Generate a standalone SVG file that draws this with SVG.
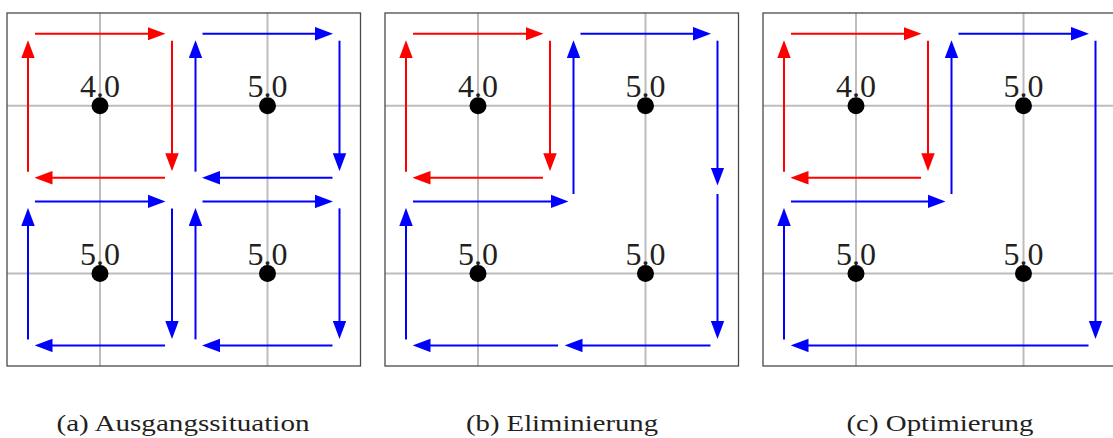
<svg xmlns="http://www.w3.org/2000/svg" width="1113" height="438" viewBox="0 0 1113 438">
<style>
.frame{fill:none;stroke:#4a4a4a;stroke-width:1.3}
.grid{stroke:#bdbdbd;stroke-width:2}
.r{fill:none;stroke:#ff0000;stroke-width:2;marker-end:url(#hr)}
.b{fill:none;stroke:#0000ff;stroke-width:2;marker-end:url(#hb)}
.dot{fill:#000}
</style>
<defs>
<marker id="hr" markerUnits="userSpaceOnUse" markerWidth="18" markerHeight="14" refX="12" refY="6" orient="auto" viewBox="0 0 16 12"><path d="M0,0 L16,6 L0,12 z" fill="#ff0000"/></marker>
<marker id="hb" markerUnits="userSpaceOnUse" markerWidth="18" markerHeight="14" refX="12" refY="6" orient="auto" viewBox="0 0 16 12"><path d="M0,0 L16,6 L0,12 z" fill="#0000ff"/></marker>
</defs>

<g id="panel-a">
<line class="grid" x1="100" y1="13" x2="100" y2="366"/>
<line class="grid" x1="267.5" y1="13" x2="267.5" y2="366"/>
<line class="grid" x1="7" y1="105.7" x2="360.5" y2="105.7"/>
<line class="grid" x1="7" y1="273.4" x2="360.5" y2="273.4"/>
<rect class="frame" x="7" y="13" width="353.5" height="353"/>
<g font-family="Liberation Serif, Times New Roman, serif" font-size="32" fill="#231f20" text-anchor="middle">
<text x="100" y="97">4.0</text>
<text x="267.5" y="97">5.0</text>
<text x="100" y="265">5.0</text>
<text x="267.5" y="265">5.0</text>
</g>
<circle class="dot" cx="100" cy="105.7" r="8.5"/>
<circle class="dot" cx="267.5" cy="105.7" r="8.5"/>
<circle class="dot" cx="100" cy="273.4" r="8.5"/>
<circle class="dot" cx="267.5" cy="273.4" r="8.5"/>
</g>
<g id="panel-b" transform="translate(378,0)">
<line class="grid" x1="100" y1="13" x2="100" y2="366"/>
<line class="grid" x1="267.5" y1="13" x2="267.5" y2="366"/>
<line class="grid" x1="7" y1="105.7" x2="360.5" y2="105.7"/>
<line class="grid" x1="7" y1="273.4" x2="360.5" y2="273.4"/>
<rect class="frame" x="7" y="13" width="353.5" height="353"/>
<g font-family="Liberation Serif, Times New Roman, serif" font-size="32" fill="#231f20" text-anchor="middle">
<text x="100" y="97">4.0</text>
<text x="267.5" y="97">5.0</text>
<text x="100" y="265">5.0</text>
<text x="267.5" y="265">5.0</text>
</g>
<circle class="dot" cx="100" cy="105.7" r="8.5"/>
<circle class="dot" cx="267.5" cy="105.7" r="8.5"/>
<circle class="dot" cx="100" cy="273.4" r="8.5"/>
<circle class="dot" cx="267.5" cy="273.4" r="8.5"/>
</g>
<g id="panel-c" transform="translate(756,0)">
<line class="grid" x1="100" y1="13" x2="100" y2="366"/>
<line class="grid" x1="267.5" y1="13" x2="267.5" y2="366"/>
<line class="grid" x1="7" y1="105.7" x2="360.5" y2="105.7"/>
<line class="grid" x1="7" y1="273.4" x2="360.5" y2="273.4"/>
<rect class="frame" x="7" y="13" width="353.5" height="353"/>
<g font-family="Liberation Serif, Times New Roman, serif" font-size="32" fill="#231f20" text-anchor="middle">
<text x="100" y="97">4.0</text>
<text x="267.5" y="97">5.0</text>
<text x="100" y="265">5.0</text>
<text x="267.5" y="265">5.0</text>
</g>
<circle class="dot" cx="100" cy="105.7" r="8.5"/>
<circle class="dot" cx="267.5" cy="105.7" r="8.5"/>
<circle class="dot" cx="100" cy="273.4" r="8.5"/>
<circle class="dot" cx="267.5" cy="273.4" r="8.5"/>
</g>

<g id="connectors">
<g id="conn-a">
<path class="r" d="M35,33.7 H161"/>
<path class="r" d="M172,40.7 V166.7"/>
<path class="r" d="M165,177.7 H39"/>
<path class="r" d="M28,171.7 V44.7"/>
<path class="b" d="M202.5,33.7 H328.5"/>
<path class="b" d="M339.5,40.7 V166.7"/>
<path class="b" d="M332.5,177.7 H206.5"/>
<path class="b" d="M195.5,171.7 V44.7"/>
<path class="b" d="M35,201.4 H161"/>
<path class="b" d="M172,208.4 V334.4"/>
<path class="b" d="M165,345.4 H39"/>
<path class="b" d="M28,339.4 V212.4"/>
<path class="b" d="M202.5,201.4 H328.5"/>
<path class="b" d="M339.5,208.4 V334.4"/>
<path class="b" d="M332.5,345.4 H206.5"/>
<path class="b" d="M195.5,339.4 V212.4"/>
</g>
<g id="conn-b" transform="translate(378,0)">
<path class="r" d="M35,33.7 H161"/>
<path class="r" d="M172,40.7 V166.7"/>
<path class="r" d="M165,177.7 H39"/>
<path class="r" d="M28,171.7 V44.7"/>
<path class="b" d="M202.5,33.7 H328.5"/>
<path class="b" d="M339.5,40.7 V181"/>
<path class="b" d="M339.5,194 V334.4"/>
<path class="b" d="M332.5,345.4 H191"/>
<path class="b" d="M180,345.4 H39"/>
<path class="b" d="M28,339.4 V212.4"/>
<path class="b" d="M35,201.4 H186"/>
<path class="b" d="M195.5,194 V44.7"/>
</g>
<g id="conn-c" transform="translate(756,0)">
<path class="r" d="M35,33.7 H161"/>
<path class="r" d="M172,40.7 V166.7"/>
<path class="r" d="M165,177.7 H39"/>
<path class="r" d="M28,171.7 V44.7"/>
<path class="b" d="M202.5,33.7 H328.5"/>
<path class="b" d="M339.5,40.7 V334.4"/>
<path class="b" d="M332.5,345.4 H39"/>
<path class="b" d="M28,339.4 V212.4"/>
<path class="b" d="M35,201.4 H185"/>
<path class="b" d="M195.5,194 V44.7"/>
</g>
</g>

<g id="captions" font-family="Liberation Serif, Times New Roman, serif" font-size="23" fill="#231f20" text-anchor="middle">
<text x="183" y="431" textLength="253" lengthAdjust="spacingAndGlyphs">(a) Ausgangssituation</text>
<text x="562" y="431" textLength="192" lengthAdjust="spacingAndGlyphs">(b) Eliminierung</text>
<text x="940" y="431" textLength="187" lengthAdjust="spacingAndGlyphs">(c) Optimierung</text>
</g>
</svg>
